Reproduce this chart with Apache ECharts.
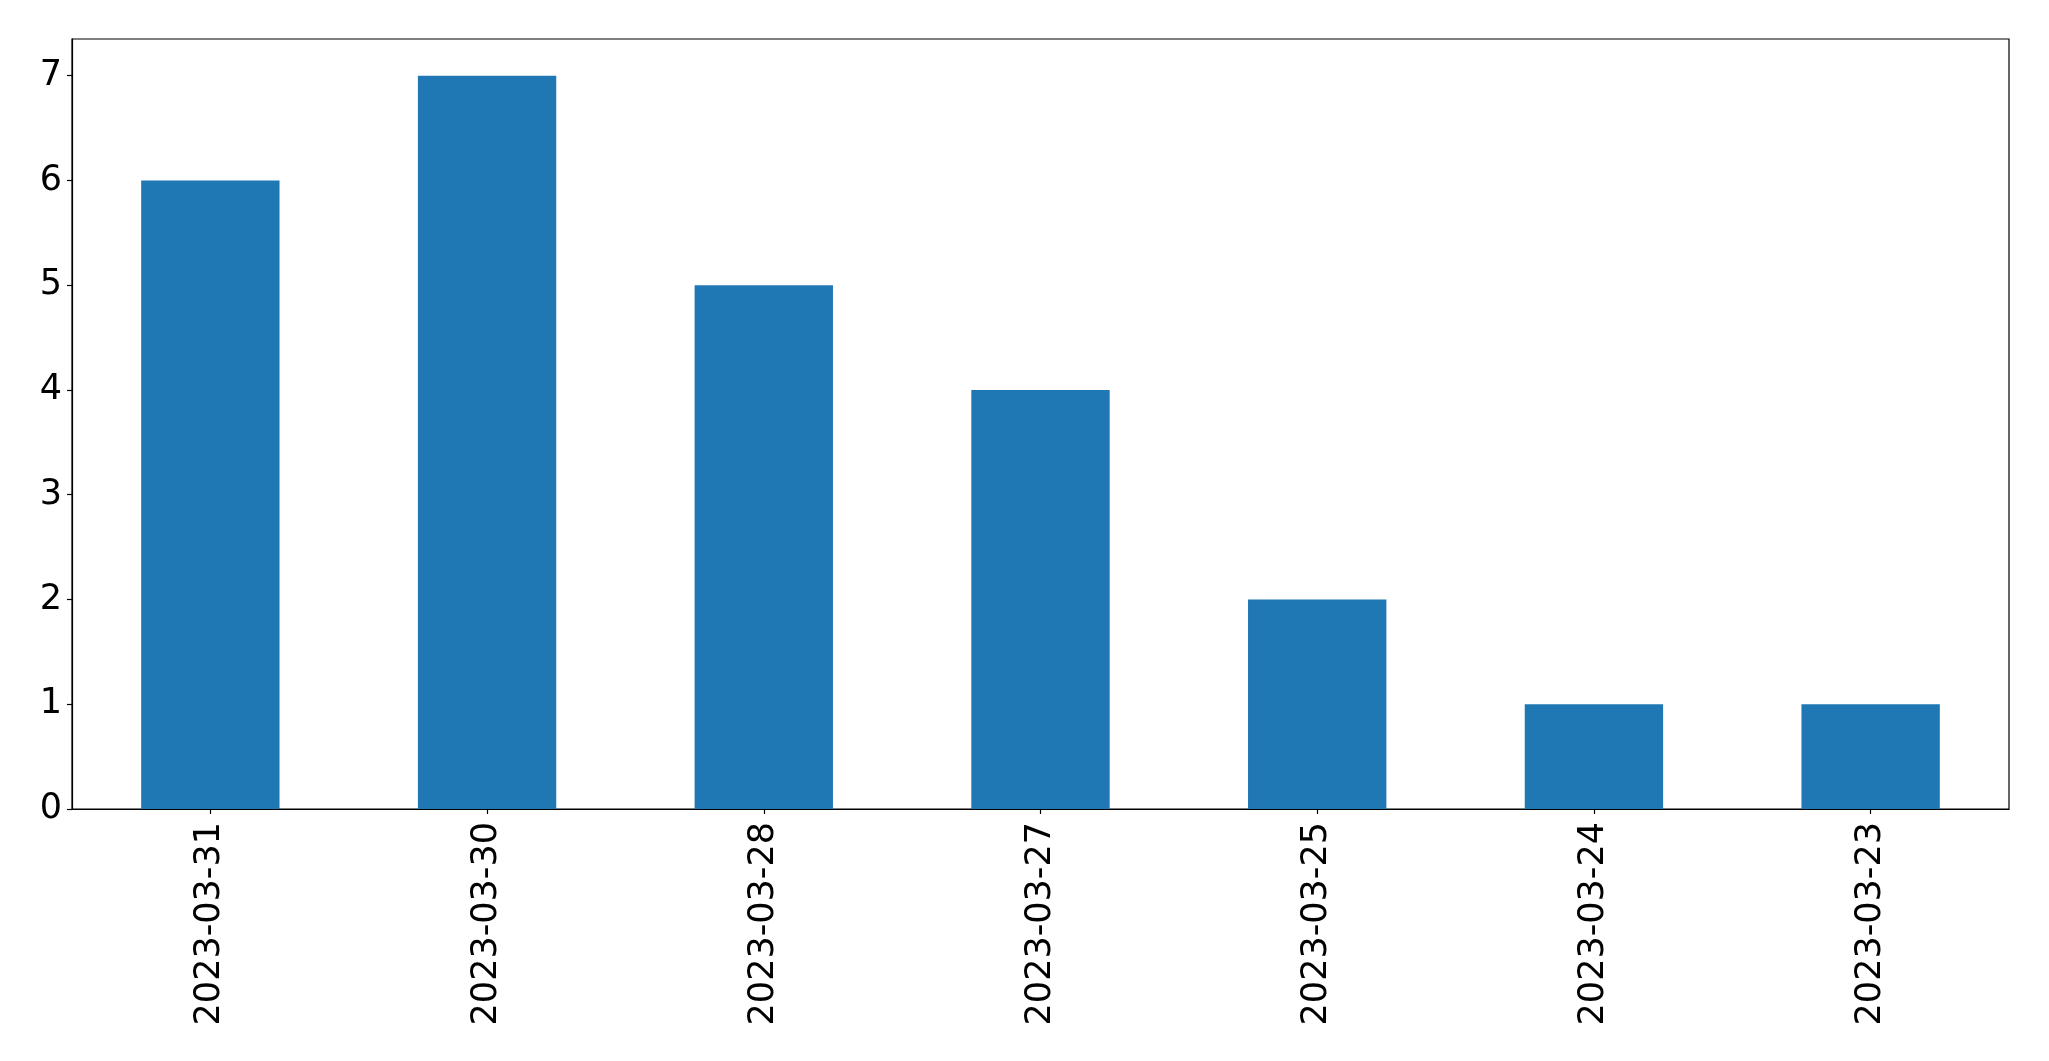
<!DOCTYPE html>
<html>
<head>
<meta charset="utf-8">
<script src="https://cdn.jsdelivr.net/npm/echarts@6/dist/echarts.min.js"></script>
<style>
html,body{margin:0;padding:0;background:#fff;}
#chart{width:2049px;height:1061px;}
</style>
</head>
<body>
<div id="chart"></div>
<script>
const categories = ['2023-03-31','2023-03-30','2023-03-28','2023-03-27','2023-03-25','2023-03-24','2023-03-23'];
const counts = [6, 7, 5, 4, 2, 1, 1];
const yTicks = [0, 1, 2, 3, 4, 5, 6, 7];
const yMax = 7.35;

const chart = echarts.init(document.getElementById('chart'), null, {renderer: 'canvas'});
const font = 'DejaVu Sans';
chart.setOption({
  animation: false,
  backgroundColor: '#ffffff',
  grid: {
    left: 72, top: 39, right: 40, bottom: 252,
    show: true, borderColor: '#000000', borderWidth: 1.2, backgroundColor: 'transparent',
    containLabel: false
  },
  xAxis: {
    type: 'category',
    data: categories,
    boundaryGap: true,
    axisLine: {show: true, lineStyle: {color: '#000', width: 1.2}},
    axisTick: {show: true, alignWithLabel: true, length: 5, lineStyle: {color: '#000', width: 1.2}},
    axisLabel: {rotate: 90, margin: 13, color: '#000', fontFamily: font, fontSize: 35, interval: 0},
    splitLine: {show: false}
  },
  yAxis: {
    type: 'value',
    min: 0,
    max: yMax,
    interval: 1,
    axisLine: {show: true, lineStyle: {color: '#000', width: 1.2}},
    axisTick: {show: true, length: 5, lineStyle: {color: '#000', width: 1.2}, customValues: yTicks},
    axisLabel: {margin: 10, color: '#000', fontFamily: font, fontSize: 35, padding: [8, 0, 0, 0], customValues: yTicks},
    splitLine: {show: false}
  },
  series: [{
    type: 'bar',
    data: counts,
    barWidth: '50%',
    itemStyle: {color: '#1f77b4'}
  }]
});
</script>
</body>
</html>
